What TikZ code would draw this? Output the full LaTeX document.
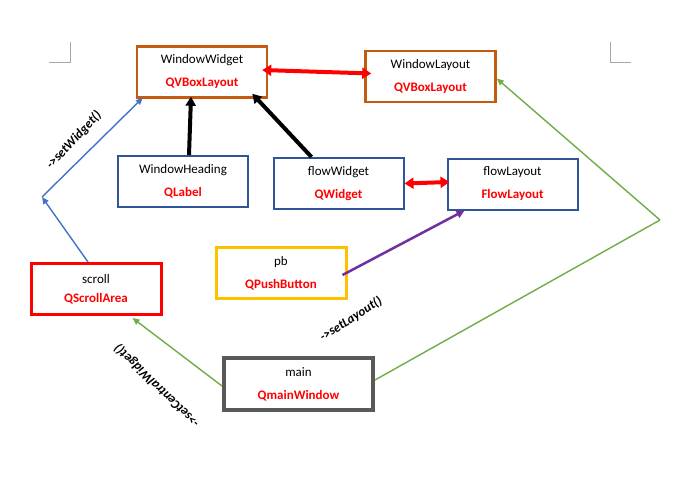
\documentclass[tikz,border=0pt]{standalone}
\usepackage{fontspec}
\setmainfont{Carlito}
\usepackage{xcolor}
\usetikzlibrary{arrows.meta, calc}

\definecolor{qbrown}{HTML}{C55A11}
\definecolor{qblue}{HTML}{2F5597}
\definecolor{qyellow}{HTML}{FFC000}
\definecolor{qgray}{HTML}{595959}
\definecolor{qgreen}{HTML}{70AD47}
\definecolor{qpurple}{HTML}{7030A0}
\definecolor{qline}{HTML}{4472C4}
\definecolor{qred}{HTML}{FF0000}
\definecolor{qmark}{HTML}{A6A6A6}

\newcommand{\obj}[2]{#1\\[8pt]{\bfseries\color{qred}#2}}

\begin{document}
\begin{tikzpicture}[x=1pt, y=-1pt, font=\fontsize{13}{15}\selectfont,
    box/.style={draw, line width=2.5pt, fill=white, minimum width=130pt,
        minimum height=51pt, align=center, inner sep=0pt},
    call/.style={font=\fontsize{13}{15}\selectfont\bfseries\itshape, inner sep=1pt},
    thin/.style={line width=1.4pt, -{Triangle[length=7pt, width=6pt]}},
    thick/.style={line width=4pt, -{Triangle[length=9pt, width=10pt]}},
    both/.style={line width=4pt, {Triangle[length=9pt, width=11pt]}-{Triangle[length=9pt, width=11pt]}, draw=qred}]

    \useasboundingbox[fill=white] (0,0) rectangle (674,477);

    % page corner marks
    \draw[qmark, line width=0.8pt] (49,62) -- (70,62) -- (70,42);
    \draw[qmark, line width=0.8pt] (631,62) -- (610,62) -- (610,42);

    % Nodes
    \node[box, draw=qbrown] (ww) at (202,72) {\obj{WindowWidget}{QVBoxLayout}};
    \node[box, draw=qbrown] (wl) at (430.5,76.5) {\obj{WindowLayout}{QVBoxLayout}};
    \node[box, draw=qblue, line width=2pt] (wh) at (183,181.5) {\obj{WindowHeading}{QLabel}};
    \node[box, draw=qblue, line width=2pt] (fw) at (338.5,183.5) {\obj{flowWidget}{QWidget}};
    \node[box, draw=qblue, line width=2pt] (fl) at (512.5,184) {\obj{flowLayout}{FlowLayout}};
    \node[box, draw=qyellow, line width=3pt] (pb) at (281,273) {\obj{pb}{QPushButton}};
    \node[box, draw=qred, line width=3pt] (sc) at (96,289) {scroll\\[4pt]{\bfseries\color{qred}QScrollArea}};
    \node[box, draw=qgray, line width=4pt, minimum width=149pt, minimum height=52pt] (mn) at (298.5,384) {\obj{main}{QmainWindow}};

    \coordinate (bendw) at (42,197);
    \coordinate (bendl) at (660,220);

    % Edges
    \draw[both] ($(ww.east)+(-6,-2)$) -- ($(wl.west)+(7,-3)$);
    \draw[both] (fw.east) -- ($(fl.west)+(3,-2)$);
    \draw[thick] ($(wh.north)+(6,0)$) -- ($(ww.south)+(-11,-2)$);
    \draw[thick] ($(fw.north)+(-27,0)$) -- ($(ww.south east)+(-16,-5)$);
    \draw[qpurple, line width=2.5pt, -{Triangle[length=8pt, width=8pt]}] ($(pb.east)+(-5,2)$) -- ($(fl.south west)+(18,0)$);
    \draw[thin, qline] ($(sc.north)+(-8,0)$) -- (bendw);
    \draw[thin, qline] (bendw) -- ($(ww.south west)+(7,-1)$);
    \draw[thin, qgreen] ($(mn.west)+(0,2)$) -- ($(sc.south east)+(-30,2)$);
    \draw[thin, qgreen, -] ($(mn.east)+(0,-4)$) -- (bendl);
    \draw[thin, qgreen] (bendl) -- ($(wl.east)+(0,2)$);

    % Calls
    \node[call, rotate=47] (setw) at (74,140) {->setWidget()};
    \node[call, rotate=33] (setl) at (351,319) {->setLayout()};
    \node[call, rotate=136] (setc) at (157,386) {->setCentralWidget()};
\end{tikzpicture}
\end{document}
